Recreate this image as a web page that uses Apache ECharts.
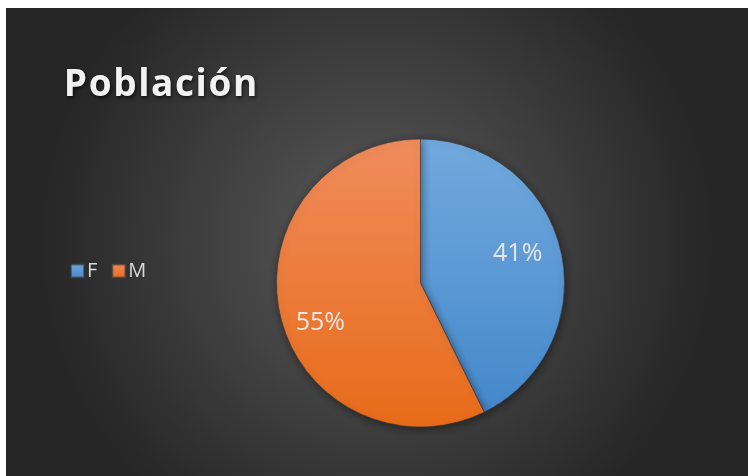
<!DOCTYPE html>
<html>
<head>
<meta charset="utf-8">
<script src="https://cdn.jsdelivr.net/npm/echarts@6/dist/echarts.min.js"></script>
<style>
  html, body { margin: 0; padding: 0; background: #fff; }
  #chart { position: absolute; left: 6px; top: 8px; width: 742px; height: 468px; }
</style>
</head>
<body>
<div id="chart"></div>
<script>
// datos del gráfico
const titleText = 'Población';
const categories = ['F', 'M'];
const values = [41, 55];
const colorsTop = ['#72a9dd', '#f08c5c'];
const colorsBottom = ['#4488cb', '#e86b19'];

const chart = echarts.init(document.getElementById('chart'));

// ajuste fino de la posición de cada etiqueta (como Excel "mejor ajuste")
const labelOffsets = [[-7, -5], [4, 16]];

const pieData = categories.map((name, i) => ({
  name: name,
  value: values[i],
  itemStyle: {
    color: {
      type: 'linear', x: 0, y: 0, x2: 0, y2: 1,
      colorStops: [
        { offset: 0, color: colorsTop[i] },
        { offset: 1, color: colorsBottom[i] }
      ]
    }
  }
}));

// espaciado entre letras del título mediante texto enriquecido
const titleRich = titleText.split('').map(ch => '{s|' + ch + '}').join('');

const option = {
  backgroundColor: {
    type: 'radial', x: 0.5, y: 0.5, r: 0.72,
    colorStops: [
      { offset: 0, color: '#5a5a5a' },
      { offset: 1, color: '#262626' }
    ]
  },
  title: {
    text: titleRich,
    left: 52,
    top: 54,
    textStyle: {
      rich: {
        s: {
          fontFamily: 'Open Sans',
          fontWeight: 'bold',
          fontSize: 37,
          color: '#f2f2f2',
          padding: [0, 0.8, 0, 0.8],
          textShadowColor: 'rgba(0,0,0,0.7)',
          textShadowBlur: 4,
          textShadowOffsetX: 1,
          textShadowOffsetY: 2
        }
      }
    }
  },
  legend: {
    data: categories,
    orient: 'horizontal',
    left: 59,
    top: 248,
    icon: 'rect',
    itemWidth: 13,
    itemHeight: 13,
    itemGap: 14,
    textStyle: {
      fontFamily: 'Open Sans',
      fontSize: 20,
      color: '#d9d9d9',
      padding: [0, 0, 0, -2]
    }
  },
  series: [
    {
      name: 'Población',
      type: 'pie',
      center: [414.5, 275],
      radius: [0, 144],
      startAngle: 90,
      clockwise: true,
      label: { show: false },
      labelLine: { show: false },
      emphasis: { disabled: true },
      itemStyle: {
        borderColor: 'rgba(60,60,60,0.6)',
        borderWidth: 0.6,
        shadowColor: 'rgba(0,0,0,0.45)',
        shadowBlur: 8,
        shadowOffsetX: 1,
        shadowOffsetY: 2
      },
      data: pieData
    },
    {
      // capa transparente solo para colocar las etiquetas
      name: 'etiquetas',
      type: 'pie',
      silent: true,
      center: [414.5, 275],
      radius: [64, 144],
      startAngle: 90,
      clockwise: true,
      itemStyle: { color: 'transparent' },
      labelLine: { show: false },
      label: {
        show: true,
        position: 'inside',
        formatter: '{c}%',
        fontFamily: 'Open Sans',
        fontSize: 25,
        color: '#e6e6e6'
      },
      data: categories.map((name, i) => ({
        name: name,
        value: values[i],
        label: { offset: labelOffsets[i] }
      }))
    }
  ]
};

chart.setOption(option);
</script>
</body>
</html>
